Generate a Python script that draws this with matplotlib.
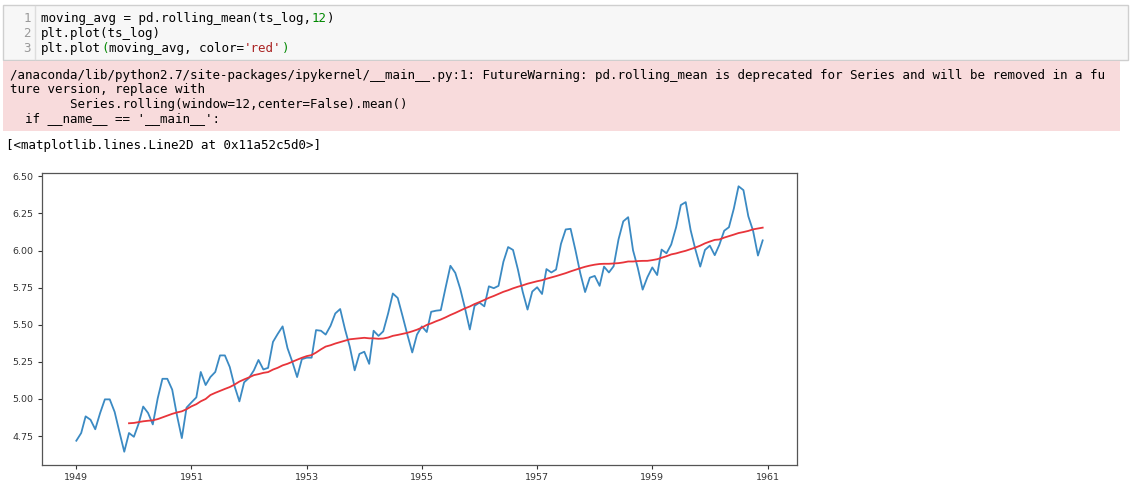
import matplotlib
matplotlib.use("Agg")
import matplotlib.pyplot as plt
import matplotlib.dates as mdates
from matplotlib.patches import Rectangle
import numpy as np
import pandas as pd

# monthly airline passengers 1949-1960 (the series behind ts_log)
passengers = [
    112, 118, 132, 129, 121, 135, 148, 148, 136, 119, 104, 118,
    115, 126, 141, 135, 125, 149, 170, 170, 158, 133, 114, 140,
    145, 150, 178, 163, 172, 178, 199, 199, 184, 162, 146, 166,
    171, 180, 193, 181, 183, 218, 230, 242, 209, 191, 172, 194,
    196, 196, 236, 235, 229, 243, 264, 272, 237, 211, 180, 201,
    204, 188, 235, 227, 234, 264, 302, 293, 259, 229, 203, 229,
    242, 233, 267, 269, 270, 315, 364, 347, 312, 274, 237, 278,
    284, 277, 317, 313, 318, 374, 413, 405, 355, 306, 271, 306,
    315, 301, 356, 348, 355, 422, 465, 467, 404, 347, 305, 336,
    340, 318, 362, 348, 363, 435, 491, 505, 404, 359, 310, 337,
    360, 342, 406, 396, 420, 472, 548, 559, 463, 407, 362, 405,
    417, 391, 419, 461, 472, 535, 622, 606, 508, 461, 390, 432,
]
start_month = "1949-01-01"
x_tick_years = ["1949", "1951", "1953", "1955", "1957", "1959", "1961"]
y_ticks = [4.75, 5.00, 5.25, 5.50, 5.75, 6.00, 6.25, 6.50]

code_lines = [
    [("moving_avg = pd.rolling_mean(ts_log,", "#000000"), ("12", "#008800"), (")", "#000000")],
    [("plt.plot(ts_log)", "#000000")],
    [("plt.plot", "#000000"), ("(", "#008800"), ("moving_avg, color=", "#000000"),
     ("'red'", "#aa2222"), (")", "#008800")],
]
warning_lines = [
    "/anaconda/lib/python2.7/site-packages/ipykernel/__main__.py:1: FutureWarning: "
    "pd.rolling_mean is deprecated for Series and will be removed in a fu",
    "ture version, replace with",
    "        Series.rolling(window=12,center=False).mean()",
    "  if __name__ == '__main__':",
]
output_line = "[<matplotlib.lines.Line2D at 0x11a52c5d0>]"

idx = pd.date_range(start_month, periods=len(passengers), freq="MS")
ts_log = pd.Series(np.log(passengers), index=idx)
moving_avg = ts_log.rolling(window=12, center=False).mean()

W, H = 1131, 493
fig = plt.figure(figsize=(W / 100, H / 100), dpi=100)

# page layer in pixel coordinates
page = fig.add_axes([0, 0, 1, 1])
page.set_xlim(0, W)
page.set_ylim(H, 0)
page.axis("off")

mono = "DejaVu Sans Mono"
cw = 9 / 72 * 100 * 0.602  # character width in px

page.add_patch(Rectangle((3, 5), 1125, 55, facecolor="#f7f7f7", edgecolor="#cfcfcf", lw=1))
page.plot([35, 35], [6, 59], color="#dddddd", lw=1)
for i, parts in enumerate(code_lines):
    y = 18.5 + i * 15
    page.text(31, y, str(i + 1), fontsize=9, family=mono, color="#999999", ha="right", va="center")
    col = 0
    for txt, c in parts:
        page.text(41 + col * cw, y, txt, fontsize=9, family=mono, color=c, ha="left", va="center")
        col += len(txt)

page.add_patch(Rectangle((3, 61), 1117, 70, facecolor="#f8dbdc", edgecolor="none"))
for i, line in enumerate(warning_lines):
    page.text(10, 75 + i * 14.6, line, fontsize=9, family=mono, color="#000000", ha="left", va="center")

page.text(6, 145, output_line, fontsize=9, family=mono, color="#000000", ha="left", va="center")

# the chart
ax = fig.add_axes([42 / W, 1 - 465 / H, 755 / W, 292 / H])
ax.plot(ts_log.index, ts_log.values, color="#3b8ac3", lw=1.3)
ax.plot(moving_avg.index, moving_avg.values, color="#e8343a", lw=1.3)
ax.set_xticks([mdates.date2num(pd.Timestamp(y + "-01-01")) for y in x_tick_years])
ax.set_xticklabels(x_tick_years)
ax.set_yticks(y_ticks)
ax.set_yticklabels([f"{v:.2f}" for v in y_ticks])
ax.tick_params(labelsize=6.8, colors="#333333", length=3, width=0.8, pad=3)
for s in ax.spines.values():
    s.set_color("#555555")
    s.set_linewidth(0.9)

fig.savefig("out.png", dpi=100)
